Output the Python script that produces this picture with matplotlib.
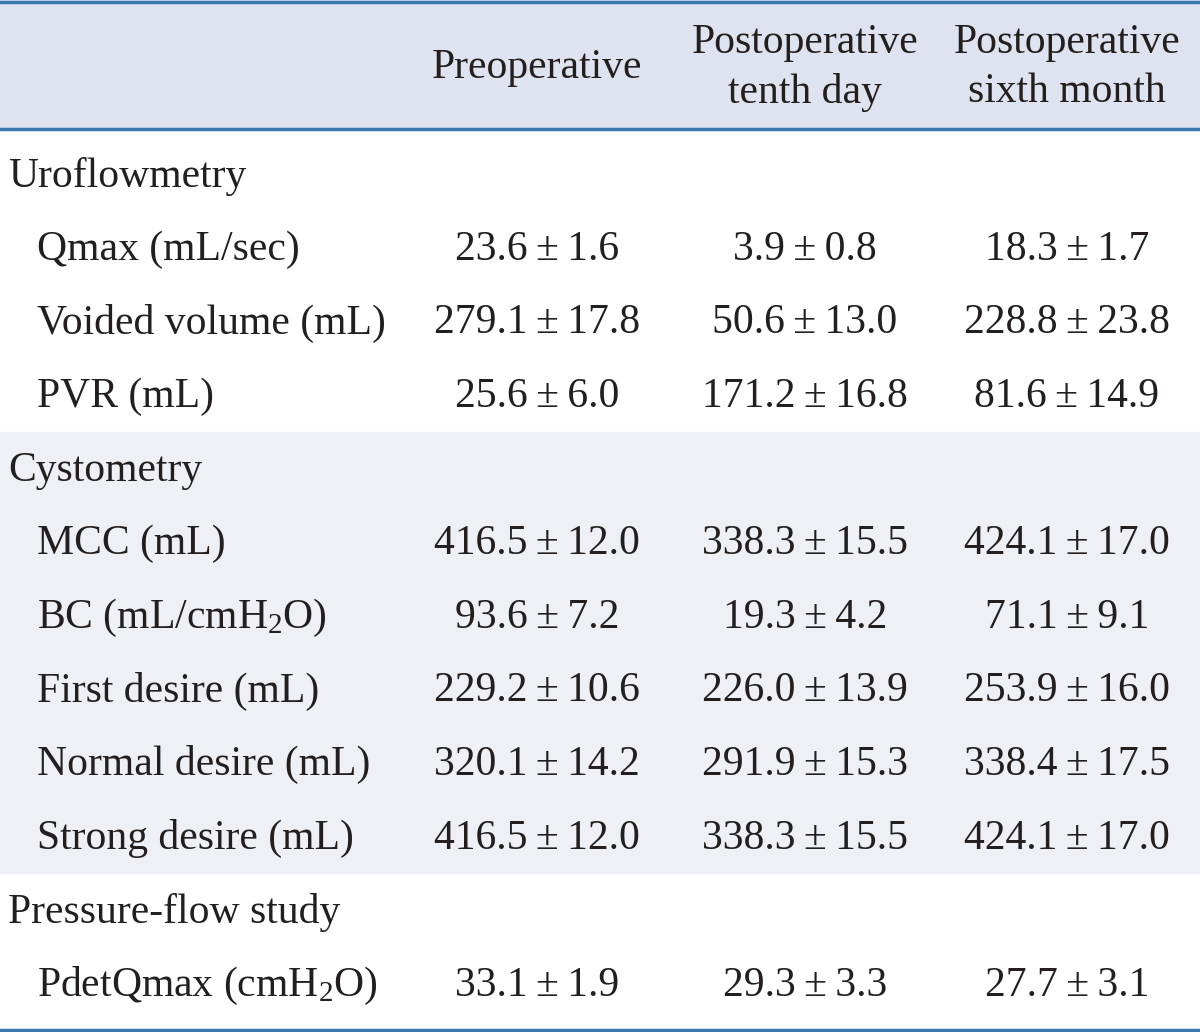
import matplotlib
matplotlib.use("Agg")
import matplotlib.pyplot as plt
from matplotlib.patches import Rectangle

plt.rcParams['font.family'] = ['Liberation Serif', 'DejaVu Serif']
plt.rcParams['mathtext.fontset'] = 'custom'
plt.rcParams['mathtext.rm'] = 'Liberation Serif'
plt.rcParams['mathtext.it'] = 'Liberation Serif:italic'

# table content
columns = ["Preoperative", "Postoperative\ntenth day", "Postoperative\nsixth month"]
sections = ["Uroflowmetry", "Cystometry", "Pressure-flow study"]
row_labels = [
    ["Qmax (mL/sec)", "Voided volume (mL)", "PVR (mL)"],
    ["MCC (mL)", "BC (mL/cmH$_2$O)", "First desire (mL)", "Normal desire (mL)", "Strong desire (mL)"],
    ["PdetQmax (cmH$_2$O)"],
]
means = [
    [23.6, 3.9, 18.3],
    [279.1, 50.6, 228.8],
    [25.6, 171.2, 81.6],
    [416.5, 338.3, 424.1],
    [93.6, 19.3, 71.1],
    [229.2, 226.0, 253.9],
    [320.1, 291.9, 338.4],
    [416.5, 338.3, 424.1],
    [33.1, 29.3, 27.7],
]
errs = [
    [1.6, 0.8, 1.7],
    [17.8, 13.0, 23.8],
    [6.0, 16.8, 14.9],
    [12.0, 15.5, 17.0],
    [7.2, 4.2, 9.1],
    [10.6, 13.9, 16.0],
    [14.2, 15.3, 17.5],
    [12.0, 15.5, 17.0],
    [1.9, 3.3, 3.1],
]

W, H = 1200, 1032
fig = plt.figure(figsize=(W / 100, H / 100), dpi=100)
ax = fig.add_axes([0, 0, 1, 1])
ax.set_xlim(0, W)
ax.set_ylim(H, 0)
ax.axis('off')

line_col = '#3a78b0'
head_bg = '#dfe2ef'
band_bg = '#eef0f6'
txt = '#231f20'
fs = 30

header_h = 129
row_h = 73.6
col_x = [537, 805, 1067]

# header band
ax.add_patch(Rectangle((0, 0), W, header_h, color=head_bg, zorder=0))
ax.plot([0, W], [1.5, 1.5], color=line_col, lw=2.5)
ax.plot([0, W], [header_h, header_h], color=line_col, lw=2.5)
for x, c in zip(col_x, columns):
    ax.text(x, header_h / 2 + 3, c, ha='center', va='center', fontsize=fs,
            color=txt, linespacing=1.35)

y = header_h + 47
k = 0
for s, (sec, labs) in enumerate(zip(sections, row_labels)):
    n = len(labs) + 1
    top = y - row_h / 2 - 10
    if s == 1:
        ax.add_patch(Rectangle((0, top + 8), W, n * row_h, color=band_bg, zorder=0))
    ax.text(8, y, sec, ha='left', va='center', fontsize=fs, color=txt)
    y += row_h
    for lab in labs:
        ax.text(37, y, lab, ha='left', va='center', fontsize=fs, color=txt)
        for x, m, e in zip(col_x, means[k], errs[k]):
            ax.text(x, y, f"{m:.1f}\u2009±\u2009{e:.1f}", ha='center', va='center',
                    fontsize=fs, color=txt)
        k += 1
        y += row_h

ax.plot([0, W], [H - 2.5, H - 2.5], color=line_col, lw=2.5)

fig.savefig('out.png', dpi=100)
